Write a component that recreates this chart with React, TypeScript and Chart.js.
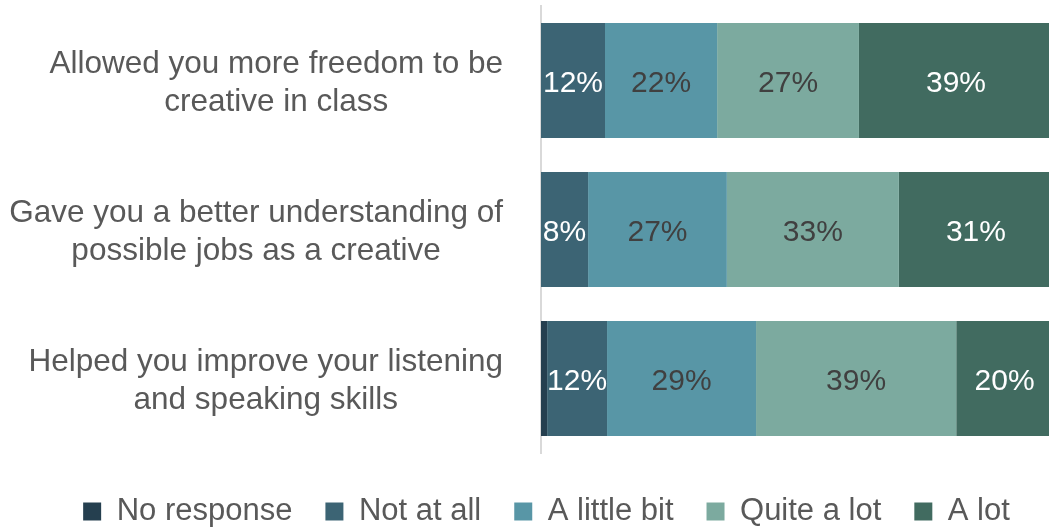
import React, { useEffect, useRef } from "react";
import { Chart, registerables } from "chart.js";

Chart.register(...registerables);

const categories: string[][] = [
  ["Allowed you more freedom to be", "creative in class"],
  ["Gave you a better understanding of", "possible jobs as a creative"],
  ["Helped you improve your listening", "and speaking skills"],
];

const seriesNames = ["No response", "Not at all", "A little bit", "Quite a lot", "A lot"];

const noResponse = [0, 0, 1.2];
const notAtAll = [12.5, 9.2, 11.7];
const aLittleBit = [21.9, 27.1, 29.1];
const quiteALot = [27.7, 33.6, 39.1];
const aLot = [37.9, 30.1, 18.9];

const noResponseLabels = ["", "", ""];
const notAtAllLabels = ["12%", "8%", "12%"];
const aLittleBitLabels = ["22%", "27%", "29%"];
const quiteALotLabels = ["27%", "33%", "39%"];
const aLotLabels = ["39%", "31%", "20%"];

const colors = ["#253f4f", "#3c6474", "#5896a6", "#7caa9f", "#416b60"];
const labelColors = ["#ffffff", "#ffffff", "#404040", "#404040", "#ffffff"];

const FONT = "'Liberation Sans', Arial, sans-serif";

export default function App() {
  const ref = useRef<HTMLCanvasElement | null>(null);

  useEffect(() => {
    const canvas = ref.current;
    if (!canvas) return;
    const values = [noResponse, notAtAll, aLittleBit, quiteALot, aLot];
    const labels = [noResponseLabels, notAtAllLabels, aLittleBitLabels, quiteALotLabels, aLotLabels];

    const dataLabelPlugin = {
      id: "segLabels",
      afterDatasetsDraw(chart: any) {
        const ctx = chart.ctx;
        ctx.save();
        ctx.font = `30px ${FONT}`;
        ctx.textAlign = "center";
        ctx.textBaseline = "middle";
        chart.data.datasets.forEach((ds: any, di: number) => {
          const meta = chart.getDatasetMeta(di);
          meta.data.forEach((el: any, i: number) => {
            const t = labels[di][i];
            if (!t) return;
            const p = el.getProps(["x", "y", "base"], true);
            ctx.fillStyle = labelColors[di];
            ctx.fillText(t, (p.x + p.base) / 2, p.y + 3);
          });
        });
        ctx.restore();
      },
    };

    const yLabelPlugin = {
      id: "yLabels",
      afterDraw(chart: any) {
        const ctx = chart.ctx;
        const y = chart.scales.y;
        const right = chart.chartArea.left - 38;
        const lh = 38;
        ctx.save();
        ctx.font = `31.5px ${FONT}`;
        ctx.fillStyle = "#595959";
        ctx.textAlign = "center";
        ctx.textBaseline = "middle";
        categories.forEach((lines, i) => {
          const cy = y.getPixelForTick(i) + 3;
          const w = Math.max(...lines.map((l) => ctx.measureText(l).width));
          const cx = right - w / 2;
          const y0 = cy - ((lines.length - 1) * lh) / 2;
          lines.forEach((l, k) => ctx.fillText(l, cx, y0 + k * lh));
        });
        ctx.restore();
      },
    };

    const legendShift = {
      id: "legendShift",
      afterLayout(chart: any) {
        const lg = chart.legend;
        if (!lg) return;
        lg.left += 20;
        lg.right += 20;
        lg.top += 10;
        lg.bottom += 10;
      },
    };

    const chart = new Chart(canvas, {
      type: "bar",
      data: {
        labels: categories.map((c) => c.join(" ")),
        datasets: seriesNames.map((name, i) => ({
          label: name,
          data: values[i],
          backgroundColor: colors[i],
          borderWidth: 0,
          categoryPercentage: 1,
          barPercentage: 0.772,
        })),
      },
      options: {
        indexAxis: "y",
        responsive: false,
        animation: false,
        layout: { padding: { top: 6, left: 0, right: 0, bottom: 0 } },
        scales: {
          x: { stacked: true, min: 0, max: 100, display: false },
          y: {
            stacked: true,
            grid: { display: false },
            ticks: { display: false },
            border: { display: true, color: "#d9d9d9", width: 2 },
            afterFit(scale: any) {
              scale.width = 541;
            },
          },
        },
        plugins: {
          legend: {
            position: "bottom",
            labels: {
              font: { family: FONT, size: 31 },
              color: "#595959",
              boxWidth: 18,
              boxHeight: 18,
              padding: 33,
            },
          },
          tooltip: { enabled: false },
        },
      },
      plugins: [dataLabelPlugin, yLabelPlugin, legendShift],
    });
    return () => chart.destroy();
  }, []);

  return (
    <div style={{ position: "absolute", left: 0, top: 0, width: 1049, height: 527, overflow: "hidden", background: "#fff" }}>
      <canvas ref={ref} width={1053} height={527} style={{ display: "block" }} />
    </div>
  );
}
